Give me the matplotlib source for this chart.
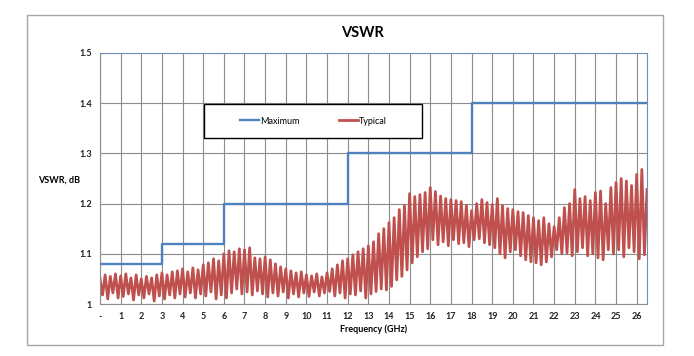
import numpy as np
import matplotlib.pyplot as plt
from matplotlib.patches import Rectangle

# maximum spec (step)
max_freq = [0, 3, 6, 12, 18, 26.5]
max_vswr = [1.08, 1.12, 1.20, 1.30, 1.40, 1.40]

# typical trace: peak values every 0.25 GHz (from 0) and trough values in between
typ_peaks = [
    1.050, 1.058, 1.055, 1.060, 1.056, 1.060, 1.052, 1.058,
    1.050, 1.055, 1.052, 1.058, 1.062, 1.058, 1.064, 1.066,
    1.070, 1.064, 1.072, 1.068, 1.078, 1.082, 1.090, 1.086,
    1.100, 1.106, 1.104, 1.110, 1.108, 1.112, 1.092, 1.090,
    1.094, 1.088, 1.080, 1.074, 1.070, 1.066, 1.062, 1.064,
    1.058, 1.056, 1.060, 1.054, 1.062, 1.070, 1.078, 1.086,
    1.090, 1.098, 1.104, 1.110, 1.116, 1.124, 1.140, 1.150,
    1.162, 1.172, 1.188, 1.196, 1.220, 1.214, 1.218, 1.222,
    1.232, 1.224, 1.215, 1.210, 1.208, 1.206, 1.204, 1.196,
    1.186, 1.200, 1.208, 1.202, 1.198, 1.210, 1.196, 1.190,
    1.188, 1.184, 1.182, 1.176, 1.172, 1.166, 1.172, 1.160,
    1.154, 1.172, 1.192, 1.200, 1.228, 1.210, 1.214, 1.206,
    1.222, 1.225, 1.200, 1.232, 1.242, 1.250, 1.245, 1.236,
    1.258, 1.268, 1.228,
]
typ_troughs = [
    1.018, 1.010, 1.022, 1.012, 1.015, 1.020, 1.008, 1.018,
    1.012, 1.020, 1.006, 1.016, 1.010, 1.018, 1.012, 1.020,
    1.014, 1.022, 1.012, 1.020, 1.016, 1.024, 1.010, 1.018,
    1.012, 1.022, 1.030, 1.020, 1.024, 1.018, 1.026, 1.020,
    1.014, 1.022, 1.016, 1.024, 1.012, 1.020, 1.014, 1.022,
    1.015, 1.024, 1.016, 1.022, 1.025, 1.016, 1.022, 1.012,
    1.020, 1.018, 1.026, 1.012, 1.020, 1.025, 1.030, 1.028,
    1.035, 1.048, 1.055, 1.068, 1.082, 1.094, 1.104, 1.110,
    1.128, 1.118, 1.124, 1.116, 1.128, 1.120, 1.122, 1.114,
    1.128, 1.130, 1.122, 1.118, 1.112, 1.100, 1.092, 1.104,
    1.108, 1.096, 1.088, 1.084, 1.082, 1.078, 1.084, 1.094,
    1.108, 1.100, 1.102, 1.096, 1.104, 1.112, 1.096, 1.100,
    1.092, 1.088, 1.108, 1.100, 1.108, 1.094, 1.112, 1.104,
    1.090, 1.098,
]

x_ticks = list(range(0, 27))
x_labels = ['-'] + [str(i) for i in range(1, 27)]
y_ticks = [1.0, 1.1, 1.2, 1.3, 1.4, 1.5]
y_labels = ['1', '1.1', '1.2', '1.3', '1.4', '1.5']

# build the zig-zag trace
peak_x = np.arange(len(typ_peaks)) * 0.25
trough_x = np.arange(len(typ_troughs)) * 0.25 + 0.125
typ_x = np.empty(len(peak_x) + len(trough_x))
typ_y = np.empty_like(typ_x)
typ_x[0::2] = peak_x
typ_x[1::2] = trough_x
typ_y[0::2] = typ_peaks
typ_y[1::2] = typ_troughs

plt.rcParams['font.family'] = ['Lato', 'DejaVu Sans']

fig = plt.figure(figsize=(6.94, 3.56), dpi=100)
fig.patches.append(Rectangle((27 / 694, 1 - 345 / 356), 636 / 694, 330 / 356,
                             transform=fig.transFigure, fill=False,
                             edgecolor='#a6a6a6', linewidth=1.0))

ax = fig.add_axes([100 / 694, 1 - 304 / 356, 547 / 694, 251 / 356])

ax.plot(max_freq, max_vswr, drawstyle='steps-post', color='#4f81bd',
        linewidth=1.7, label='Maximum', zorder=3)
ax.plot(typ_x, typ_y, color='#c0504d', linewidth=2.0, label='Typical', zorder=2)

ax.set_xlim(0, 26.5)
ax.set_ylim(1.0, 1.5)
ax.set_xticks(x_ticks)
ax.set_xticklabels(x_labels)
ax.set_yticks(y_ticks)
ax.set_yticklabels(y_labels)
ax.tick_params(length=0, labelsize=6.5, pad=6)
for lab in ax.get_xticklabels() + ax.get_yticklabels():
    lab.set_fontweight('bold')
    lab.set_color('#222222')

ax.grid(True, color='#8c8c8c', linewidth=0.8)
ax.set_axisbelow(True)
for side in ['left', 'bottom']:
    ax.spines[side].set_color('#8c8c8c')
for side in ['top', 'right']:
    ax.spines[side].set_color('#6f8fb8')

# legend box
ax.add_patch(Rectangle((104 / 547, (304 - 138) / 251), 218 / 547, 34 / 251,
                       transform=ax.transAxes, facecolor='white',
                       edgecolor='black', linewidth=1.0, zorder=4))
ax.legend(loc='center', bbox_to_anchor=(0.390, 0.729), ncol=2, frameon=False,
          fontsize=6.5, handlelength=2.1, handletextpad=0.1, columnspacing=4.3
          ).set_zorder(5)

fig.text(362 / 694, 1 - 33 / 356, 'VSWR', ha='center', va='center',
         fontsize=10.5, fontweight='bold')
fig.text(38 / 694, 1 - 180 / 356, 'VSWR, dB', ha='left', va='center',
         fontsize=6.5, fontweight='bold')
fig.text(373.5 / 694, 1 - 329 / 356, 'Frequency (GHz)', ha='center', va='center',
         fontsize=6.5, fontweight='bold')

fig.savefig('out.png', dpi=100)
